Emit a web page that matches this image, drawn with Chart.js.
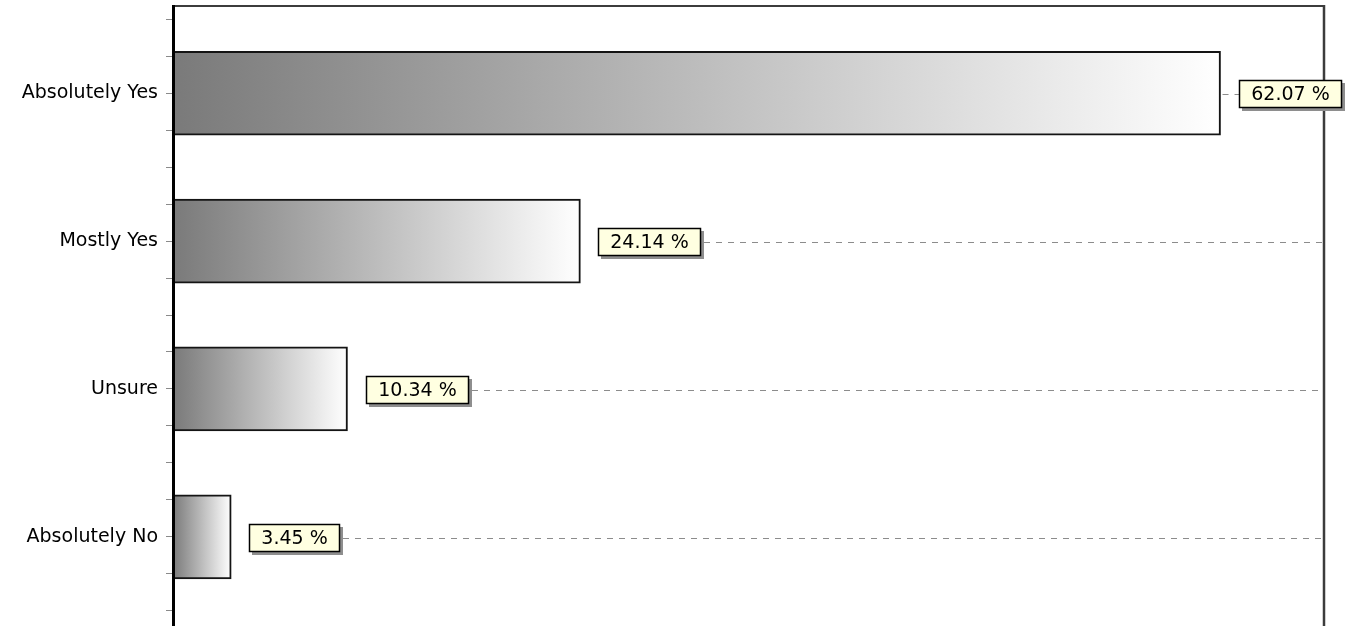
<!DOCTYPE html>
<html>
<head>
<meta charset="utf-8">
<title>Survey results</title>
<script src="https://cdn.jsdelivr.net/npm/chart.js@4.4.0/dist/chart.umd.min.js"></script>
<style>
    html, body { margin: 0; padding: 0; background: #fff; overflow: hidden; }
    #wrap { width: 1348px; height: 640px; }
</style>
</head>
<body>
<div id="wrap"><canvas id="chartAnswers"></canvas></div>
<script>
// ======================
// DATA
// ======================
const categories = ["Absolutely Yes", "Mostly Yes", "Unsure", "Absolutely No"];
const percents = [62.07, 24.14, 10.34, 3.45];
const percentLabels = ["62.07 %", "24.14 %", "10.34 %", "3.45 %"];

const FONT = '"DejaVu Sans", "Liberation Sans", Arial, sans-serif';

// ======================
// PLUGINS
// ======================
const plotFrame = {
    id: "plotFrame",
    beforeDatasetsDraw(chart) {
        const ctx = chart.ctx;
        const a = chart.chartArea;
        ctx.save();
        ctx.strokeStyle = "#3c3c3c";
        ctx.lineWidth = 2;
        ctx.beginPath();
        ctx.moveTo(a.left, a.top);
        ctx.lineTo(a.right, a.top);
        ctx.stroke();
        ctx.lineWidth = 2.5;
        ctx.beginPath();
        ctx.moveTo(a.right, a.top - 1);
        ctx.lineTo(a.right, a.bottom);
        ctx.stroke();
        ctx.restore();
    }
};

const valueBoxes = {
    id: "valueBoxes",
    afterDraw(chart) {
        const ctx = chart.ctx;
        const a = chart.chartArea;
        const meta = chart.getDatasetMeta(0);
        ctx.save();
        ctx.font = "19px " + FONT;
        meta.data.forEach((bar, i) => {
            const text = percentLabels[i];
            const w = Math.round(ctx.measureText(text).width) + 25;
            const h = 28;
            const bx = Math.round(bar.x) + 18;
            const by = Math.round(bar.y) - 13;
            const ly = Math.round(bar.y) + 1.5;

            // dashed leader
            ctx.setLineDash([6, 6]);
            ctx.strokeStyle = "#8c8c8c";
            ctx.lineWidth = 1;
            ctx.beginPath();
            if (bx + w < a.right) {
                ctx.moveTo(bx + w + 3, ly);
                ctx.lineTo(a.right, ly);
            } else {
                ctx.moveTo(bar.x + 2, ly);
                ctx.lineTo(bx, ly);
            }
            ctx.stroke();
            ctx.setLineDash([]);

            // box + shadow
            ctx.fillStyle = "#8e8e8e";
            ctx.fillRect(bx + 3, by + 3, w, h);
            ctx.fillStyle = "#ffffe1";
            ctx.fillRect(bx, by, w, h);
            ctx.strokeStyle = "#000";
            ctx.lineWidth = 1.5;
            ctx.strokeRect(bx + 0.5, by + 0.5, w - 1, h - 1);

            ctx.fillStyle = "#000";
            ctx.textAlign = "center";
            ctx.textBaseline = "middle";
            ctx.fillText(text, bx + w / 2, by + h / 2 + 1);
        });
        ctx.restore();
    }
};

// ======================
// CHART
// ======================
function barGradient(context) {
    const chart = context.chart;
    const { ctx, chartArea, scales } = chart;
    if (!chartArea || context.type !== "data" || !scales.x) return "#aaaaaa";
    const x0 = scales.x.getPixelForValue(0);
    const x1 = scales.x.getPixelForValue(context.raw.x);
    const g = ctx.createLinearGradient(x0, 0, x1, 0);
    g.addColorStop(0, "#7a7a7a");
    g.addColorStop(1, "#ffffff");
    return g;
}

const ctx = document.getElementById("chartAnswers").getContext("2d");

new Chart(ctx, {
    type: "bar",
    data: {
        datasets: [{
            data: percents.map((v, i) => ({ x: v, y: i })),
            backgroundColor: barGradient,
            borderColor: "#141414",
            borderWidth: 2,
            barThickness: 84
        }]
    },
    options: {
        indexAxis: "y",
        responsive: true,
        maintainAspectRatio: false,
        devicePixelRatio: 1,
        animation: false,
        layout: { padding: { top: 6, right: 24, bottom: 13, left: 0 } },
        plugins: {
            legend: { display: false },
            tooltip: { enabled: false }
        },
        scales: {
            x: {
                type: "linear",
                display: false,
                min: 0,
                max: 68.2
            },
            y: {
                type: "linear",
                reverse: true,
                offset: false,
                min: -0.59,
                max: 3.61,
                afterFit: s => {
                    s.width = 173;
                    s.paddingTop = 0;
                    s.paddingBottom = 0;
                },
                border: { display: true, color: "#000", width: 3, z: 1 },
                grid: {
                    offset: false,
                    drawOnChartArea: false,
                    drawTicks: true,
                    tickLength: 7,
                    color: "#8a8a8a",
                    lineWidth: 1
                },
                ticks: {
                    stepSize: 0.25,
                    includeBounds: false,
                    autoSkip: false,
                    padding: 8,
                    color: "#000",
                    font: { family: FONT, size: 19 },
                    callback: v => Number.isInteger(v) ? categories[v] : ""
                }
            }
        }
    },
    plugins: [plotFrame, valueBoxes]
});
</script>
</body>
</html>
